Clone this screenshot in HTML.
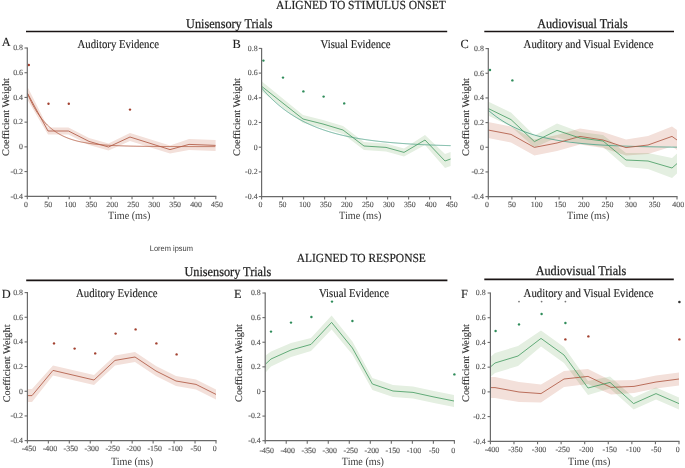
<!DOCTYPE html>
<html><head><meta charset="utf-8"><style>
html,body{margin:0;padding:0;background:#fff;}
svg{display:block;text-rendering:geometricPrecision;filter:blur(0.3px);}
</style></head><body>
<svg width="685" height="468" viewBox="0 0 685 468">
<rect width="685" height="468" fill="#fff"/>
<text x="276.1" y="9.4" font-size="12.3" text-anchor="start" fill="#1e1e1e" font-family='"Liberation Serif", serif' textLength="169.8" lengthAdjust="spacingAndGlyphs"  stroke="#1e1e1e" stroke-width="0.2">ALIGNED TO STIMULUS ONSET</text>
<text x="296.7" y="262.1" font-size="12.3" text-anchor="start" fill="#1e1e1e" font-family='"Liberation Serif", serif' textLength="129.2" lengthAdjust="spacingAndGlyphs"  stroke="#1e1e1e" stroke-width="0.2">ALIGNED TO RESPONSE</text>
<text x="186.1" y="27.5" font-size="13.3" text-anchor="start" fill="#1e1e1e" font-family='"Liberation Serif", serif' textLength="86.4" lengthAdjust="spacingAndGlyphs"  stroke="#1e1e1e" stroke-width="0.25">Unisensory Trials</text>
<text x="537.2" y="27.5" font-size="13.3" text-anchor="start" fill="#1e1e1e" font-family='"Liberation Serif", serif' textLength="90.5" lengthAdjust="spacingAndGlyphs"  stroke="#1e1e1e" stroke-width="0.25">Audiovisual Trials</text>
<text x="184.5" y="275.7" font-size="13.3" text-anchor="start" fill="#1e1e1e" font-family='"Liberation Serif", serif' textLength="86.7" lengthAdjust="spacingAndGlyphs"  stroke="#1e1e1e" stroke-width="0.25">Unisensory Trials</text>
<text x="535.7" y="275.4" font-size="13.3" text-anchor="start" fill="#1e1e1e" font-family='"Liberation Serif", serif' textLength="90.5" lengthAdjust="spacingAndGlyphs"  stroke="#1e1e1e" stroke-width="0.25">Audiovisual Trials</text>
<line x1="26.0" y1="31.5" x2="447.2" y2="31.5" stroke="#1a1414" stroke-width="1.6"/>
<line x1="484.3" y1="31.5" x2="674" y2="31.5" stroke="#1a1414" stroke-width="1.6"/>
<line x1="26.2" y1="280.4" x2="447.4" y2="280.4" stroke="#1a1414" stroke-width="1.6"/>
<line x1="484.3" y1="279.4" x2="673.8" y2="279.4" stroke="#1a1414" stroke-width="1.6"/>
<text x="149.8" y="250.8" font-size="8" text-anchor="start" fill="#3a3a3a" font-family='"Liberation Sans", sans-serif' textLength="43.2" lengthAdjust="spacingAndGlyphs" >Lorem ipsum</text>
<text x="1.8" y="45.5" font-size="12.4" text-anchor="start" fill="#1e1e1e" font-family='"Liberation Serif", serif'  stroke="#1e1e1e" stroke-width="0.1">A</text>
<text x="232.4" y="48.4" font-size="12.4" text-anchor="start" fill="#1e1e1e" font-family='"Liberation Serif", serif'  stroke="#1e1e1e" stroke-width="0.1">B</text>
<text x="460.4" y="48.2" font-size="12.4" text-anchor="start" fill="#1e1e1e" font-family='"Liberation Serif", serif'  stroke="#1e1e1e" stroke-width="0.1">C</text>
<text x="1.8" y="297.5" font-size="12.4" text-anchor="start" fill="#1e1e1e" font-family='"Liberation Serif", serif'  stroke="#1e1e1e" stroke-width="0.1">D</text>
<text x="234.0" y="298" font-size="12.4" text-anchor="start" fill="#1e1e1e" font-family='"Liberation Serif", serif'  stroke="#1e1e1e" stroke-width="0.1">E</text>
<text x="461.0" y="298" font-size="12.4" text-anchor="start" fill="#1e1e1e" font-family='"Liberation Serif", serif'  stroke="#1e1e1e" stroke-width="0.1">F</text>
<text x="77.5" y="48.3" font-size="12" text-anchor="start" fill="#1e1e1e" font-family='"Liberation Serif", serif' textLength="81.5" lengthAdjust="spacingAndGlyphs"  stroke="#1e1e1e" stroke-width="0.15">Auditory Evidence</text>
<text x="320.6" y="48.3" font-size="12" text-anchor="start" fill="#1e1e1e" font-family='"Liberation Serif", serif' textLength="70" lengthAdjust="spacingAndGlyphs"  stroke="#1e1e1e" stroke-width="0.15">Visual Evidence</text>
<text x="523.6" y="48.3" font-size="12" text-anchor="start" fill="#1e1e1e" font-family='"Liberation Serif", serif' textLength="130" lengthAdjust="spacingAndGlyphs"  stroke="#1e1e1e" stroke-width="0.15">Auditory and Visual Evidence</text>
<text x="76" y="297.3" font-size="12" text-anchor="start" fill="#1e1e1e" font-family='"Liberation Serif", serif' textLength="81.5" lengthAdjust="spacingAndGlyphs"  stroke="#1e1e1e" stroke-width="0.15">Auditory Evidence</text>
<text x="319" y="297.1" font-size="12" text-anchor="start" fill="#1e1e1e" font-family='"Liberation Serif", serif' textLength="70" lengthAdjust="spacingAndGlyphs"  stroke="#1e1e1e" stroke-width="0.15">Visual Evidence</text>
<text x="523.6" y="297.1" font-size="12" text-anchor="start" fill="#1e1e1e" font-family='"Liberation Serif", serif' textLength="130" lengthAdjust="spacingAndGlyphs"  stroke="#1e1e1e" stroke-width="0.15">Auditory and Visual Evidence</text>
<text transform="translate(9.3,117.0) rotate(-90)" x="0" y="0" font-size="10" text-anchor="middle" fill="#333" stroke="#333" stroke-width="0.12" font-family='"Liberation Serif", serif' textLength="77.8" lengthAdjust="spacingAndGlyphs">Coefficient Weight</text>
<text transform="translate(239.7,117.0) rotate(-90)" x="0" y="0" font-size="10" text-anchor="middle" fill="#333" stroke="#333" stroke-width="0.12" font-family='"Liberation Serif", serif' textLength="77.8" lengthAdjust="spacingAndGlyphs">Coefficient Weight</text>
<text transform="translate(468.9,117.0) rotate(-90)" x="0" y="0" font-size="10" text-anchor="middle" fill="#333" stroke="#333" stroke-width="0.12" font-family='"Liberation Serif", serif' textLength="77.8" lengthAdjust="spacingAndGlyphs">Coefficient Weight</text>
<text transform="translate(10.2,363.4) rotate(-90)" x="0" y="0" font-size="10" text-anchor="middle" fill="#333" stroke="#333" stroke-width="0.12" font-family='"Liberation Serif", serif' textLength="77.8" lengthAdjust="spacingAndGlyphs">Coefficient Weight</text>
<text transform="translate(242.2,363.0) rotate(-90)" x="0" y="0" font-size="10" text-anchor="middle" fill="#333" stroke="#333" stroke-width="0.12" font-family='"Liberation Serif", serif' textLength="77.8" lengthAdjust="spacingAndGlyphs">Coefficient Weight</text>
<text transform="translate(469.2,363.0) rotate(-90)" x="0" y="0" font-size="10" text-anchor="middle" fill="#333" stroke="#333" stroke-width="0.12" font-family='"Liberation Serif", serif' textLength="77.8" lengthAdjust="spacingAndGlyphs">Coefficient Weight</text>
<text x="129.2" y="219.3" font-size="11.1" text-anchor="middle" fill="#3a3a3a" font-family='"Liberation Serif", serif' textLength="42.2" lengthAdjust="spacingAndGlyphs" >Time (ms)</text>
<text x="360.2" y="219.3" font-size="11.1" text-anchor="middle" fill="#3a3a3a" font-family='"Liberation Serif", serif' textLength="42.2" lengthAdjust="spacingAndGlyphs" >Time (ms)</text>
<text x="588.2" y="219.3" font-size="11.1" text-anchor="middle" fill="#3a3a3a" font-family='"Liberation Serif", serif' textLength="42.2" lengthAdjust="spacingAndGlyphs" >Time (ms)</text>
<text x="132" y="464.5" font-size="11.1" text-anchor="middle" fill="#3a3a3a" font-family='"Liberation Serif", serif' textLength="42.2" lengthAdjust="spacingAndGlyphs" >Time (ms)</text>
<text x="362.9" y="464.5" font-size="11.1" text-anchor="middle" fill="#3a3a3a" font-family='"Liberation Serif", serif' textLength="42.2" lengthAdjust="spacingAndGlyphs" >Time (ms)</text>
<text x="589.2" y="464.5" font-size="11.1" text-anchor="middle" fill="#3a3a3a" font-family='"Liberation Serif", serif' textLength="42.2" lengthAdjust="spacingAndGlyphs" >Time (ms)</text>
<polygon points="27.30,86.50 48.00,127.50 68.50,127.50 89.00,137.90 108.50,143.50 130.00,133.00 170.00,145.60 189.00,138.90 215.60,139.90 215.60,150.90 189.00,149.90 170.00,153.60 130.00,141.00 108.50,150.50 89.00,144.90 68.50,134.50 48.00,134.50 27.30,99.50" fill="#f3e0da" style="mix-blend-mode:multiply"/>
<polyline points="27.30,93.00 28.30,95.38 29.30,97.66 30.30,99.83 31.30,101.91 32.30,103.90 33.30,105.79 34.30,107.61 35.30,109.34 36.30,111.00 37.30,112.58 38.30,114.09 39.30,115.53 40.30,116.92 41.30,118.23 42.30,119.49 43.30,120.70 44.30,121.85 45.30,122.95 46.30,124.00 47.30,125.01 48.30,125.96 49.30,126.88 50.30,127.76 51.30,128.60 52.30,129.40 53.30,130.16 54.30,130.89 55.30,131.59 56.30,132.26 57.30,132.89 58.30,133.50 59.30,134.08 60.30,134.64 61.30,135.17 62.30,135.68 63.30,136.16 64.30,136.63 65.30,137.07 66.30,137.50 67.30,137.90 68.30,138.29 69.30,138.66 70.30,139.01 71.30,139.35 72.30,139.67 73.30,139.98 74.30,140.27 75.30,140.55 76.30,140.82 77.30,141.08 78.30,141.32 79.30,141.56 80.30,141.78 81.30,142.00 82.30,142.20 83.30,142.40 84.30,142.58 85.30,142.76 86.30,142.93 87.30,143.09 88.30,143.25 89.30,143.40 90.30,143.54 91.30,143.68 92.30,143.81 93.30,143.93 94.30,144.05 95.30,144.16 96.30,144.27 97.30,144.38 98.30,144.47 99.30,144.57 100.30,144.66 101.30,144.74 102.30,144.83 103.30,144.91 104.30,144.98 105.30,145.05 106.30,145.12 107.30,145.19 108.30,145.25 109.30,145.31 110.30,145.37 111.30,145.42 112.30,145.47 113.30,145.52 114.30,145.57 115.30,145.62 116.30,145.66 117.30,145.70 118.30,145.74 119.30,145.78 120.30,145.82 121.30,145.85 122.30,145.89 123.30,145.92 124.30,145.95 125.30,145.98 126.30,146.00 127.30,146.03 128.30,146.06 129.30,146.08 130.30,146.10 131.30,146.13 132.30,146.15 133.30,146.17 134.30,146.19 135.30,146.20 136.30,146.22 137.30,146.24 138.30,146.25 139.30,146.27 140.30,146.28 141.30,146.30 142.30,146.31 143.30,146.33 144.30,146.34 145.30,146.35 146.30,146.36 147.30,146.37 148.30,146.38 149.30,146.39 150.30,146.40 151.30,146.41 152.30,146.42 153.30,146.43 154.30,146.43 155.30,146.44 156.30,146.45 157.30,146.45 158.30,146.46 159.30,146.47 160.30,146.47 161.30,146.48 162.30,146.48 163.30,146.49 164.30,146.49 165.30,146.50 166.30,146.50 167.30,146.51 168.30,146.51 169.30,146.52 170.30,146.52 171.30,146.52 172.30,146.53 173.30,146.53 174.30,146.53 175.30,146.54 176.30,146.54 177.30,146.54 178.30,146.54 179.30,146.55 180.30,146.55 181.30,146.55 182.30,146.55 183.30,146.56 184.30,146.56 185.30,146.56 186.30,146.56 187.30,146.56 188.30,146.56 189.30,146.57 190.30,146.57 191.30,146.57 192.30,146.57 193.30,146.57 194.30,146.57 195.30,146.57 196.30,146.58 197.30,146.58 198.30,146.58 199.30,146.58 200.30,146.58 201.30,146.58 202.30,146.58 203.30,146.58 204.30,146.58 205.30,146.58 206.30,146.58 207.30,146.59 208.30,146.59 209.30,146.59 210.30,146.59 211.30,146.59 212.30,146.59 213.30,146.59 214.30,146.59 215.30,146.59" fill="none" stroke="#b8644c" stroke-width="0.9" stroke-linejoin="round" />
<polyline points="27.30,93.00 48.00,131.00 68.50,131.00 89.00,141.40 108.50,147.00 130.00,137.00 170.00,149.60 189.00,144.40 215.60,145.40" fill="none" stroke="#b05a44" stroke-width="0.85" stroke-linejoin="round" />
<circle cx="28.8" cy="65" r="1.2" fill="#a2402f"/>
<circle cx="48.5" cy="103.8" r="1.2" fill="#a2402f"/>
<circle cx="68.8" cy="103.8" r="1.2" fill="#a2402f"/>
<circle cx="130" cy="109.6" r="1.2" fill="#a2402f"/>
<polygon points="261.60,81.30 303.00,115.00 323.00,120.00 343.00,126.00 364.00,142.00 386.00,143.40 404.00,148.40 425.00,135.00 445.00,154.00 450.60,152.00 450.60,166.00 445.00,168.00 425.00,145.00 404.00,156.40 386.00,151.40 364.00,150.00 343.00,134.00 323.00,128.00 303.00,123.00 261.60,91.30" fill="#e4efe1" style="mix-blend-mode:multiply"/>
<polyline points="261.60,88.00 262.60,89.17 263.60,90.31 264.60,91.44 265.60,92.54 266.60,93.61 267.60,94.67 268.60,95.71 269.60,96.72 270.60,97.72 271.60,98.69 272.60,99.65 273.60,100.59 274.60,101.51 275.60,102.41 276.60,103.29 277.60,104.16 278.60,105.01 279.60,105.84 280.60,106.65 281.60,107.45 282.60,108.23 283.60,109.00 284.60,109.75 285.60,110.49 286.60,111.21 287.60,111.92 288.60,112.62 289.60,113.30 290.60,113.97 291.60,114.62 292.60,115.26 293.60,115.89 294.60,116.51 295.60,117.11 296.60,117.70 297.60,118.28 298.60,118.85 299.60,119.41 300.60,119.95 301.60,120.49 302.60,121.01 303.60,121.53 304.60,122.03 305.60,122.53 306.60,123.01 307.60,123.49 308.60,123.95 309.60,124.41 310.60,124.86 311.60,125.30 312.60,125.72 313.60,126.15 314.60,126.56 315.60,126.96 316.60,127.36 317.60,127.75 318.60,128.13 319.60,128.50 320.60,128.87 321.60,129.23 322.60,129.58 323.60,129.93 324.60,130.26 325.60,130.60 326.60,130.92 327.60,131.24 328.60,131.55 329.60,131.86 330.60,132.16 331.60,132.45 332.60,132.74 333.60,133.02 334.60,133.30 335.60,133.57 336.60,133.84 337.60,134.10 338.60,134.35 339.60,134.60 340.60,134.85 341.60,135.09 342.60,135.32 343.60,135.56 344.60,135.78 345.60,136.00 346.60,136.22 347.60,136.44 348.60,136.64 349.60,136.85 350.60,137.05 351.60,137.25 352.60,137.44 353.60,137.63 354.60,137.82 355.60,138.00 356.60,138.18 357.60,138.35 358.60,138.52 359.60,138.69 360.60,138.85 361.60,139.02 362.60,139.17 363.60,139.33 364.60,139.48 365.60,139.63 366.60,139.78 367.60,139.92 368.60,140.06 369.60,140.20 370.60,140.33 371.60,140.46 372.60,140.59 373.60,140.72 374.60,140.84 375.60,140.97 376.60,141.08 377.60,141.20 378.60,141.32 379.60,141.43 380.60,141.54 381.60,141.65 382.60,141.75 383.60,141.86 384.60,141.96 385.60,142.06 386.60,142.16 387.60,142.25 388.60,142.35 389.60,142.44 390.60,142.53 391.60,142.62 392.60,142.70 393.60,142.79 394.60,142.87 395.60,142.95 396.60,143.03 397.60,143.11 398.60,143.19 399.60,143.27 400.60,143.34 401.60,143.41 402.60,143.48 403.60,143.55 404.60,143.62 405.60,143.69 406.60,143.75 407.60,143.82 408.60,143.88 409.60,143.94 410.60,144.00 411.60,144.06 412.60,144.12 413.60,144.18 414.60,144.23 415.60,144.29 416.60,144.34 417.60,144.39 418.60,144.45 419.60,144.50 420.60,144.55 421.60,144.60 422.60,144.64 423.60,144.69 424.60,144.74 425.60,144.78 426.60,144.82 427.60,144.87 428.60,144.91 429.60,144.95 430.60,144.99 431.60,145.03 432.60,145.07 433.60,145.11 434.60,145.15 435.60,145.18 436.60,145.22 437.60,145.25 438.60,145.29 439.60,145.32 440.60,145.36 441.60,145.39 442.60,145.42 443.60,145.45 444.60,145.48 445.60,145.51 446.60,145.54 447.60,145.57 448.60,145.60 449.60,145.63 450.60,145.65" fill="none" stroke="#5aa890" stroke-width="0.9" stroke-linejoin="round" />
<polyline points="261.60,86.30 303.00,119.00 323.00,124.00 343.00,130.00 364.00,146.00 386.00,147.40 404.00,152.40 425.00,140.00 445.00,161.00 450.60,159.00" fill="none" stroke="#4a9e66" stroke-width="0.85" stroke-linejoin="round" />
<circle cx="263.4" cy="60.6" r="1.2" fill="#2f8c5a"/>
<circle cx="283" cy="77.6" r="1.2" fill="#2f8c5a"/>
<circle cx="303.4" cy="91.4" r="1.2" fill="#2f8c5a"/>
<circle cx="323.6" cy="96.6" r="1.2" fill="#2f8c5a"/>
<circle cx="344.2" cy="103.4" r="1.2" fill="#2f8c5a"/>
<polygon points="488.00,122.00 511.00,126.40 534.40,139.40 557.00,135.00 580.00,128.40 603.00,132.00 626.00,139.60 648.00,136.00 672.00,126.40 677.00,130.00 677.00,150.00 672.00,146.40 648.00,154.00 626.00,155.60 603.00,148.00 580.00,144.40 557.00,151.00 534.40,155.40 511.00,142.40 488.00,138.00" fill="#f3e0da" style="mix-blend-mode:multiply"/>
<polygon points="488.00,101.40 511.00,112.60 534.40,135.60 557.00,123.40 580.00,132.00 603.00,135.00 626.00,153.00 648.00,153.00 672.00,158.00 677.00,153.60 677.00,173.60 672.00,178.00 648.00,169.00 626.00,167.00 603.00,147.00 580.00,144.00 557.00,137.40 534.40,147.60 511.00,126.60 488.00,115.40" fill="#e4efe1" style="mix-blend-mode:multiply"/>
<polyline points="488.00,110.00 489.00,110.88 490.00,111.73 491.00,112.57 492.00,113.38 493.00,114.18 494.00,114.96 495.00,115.72 496.00,116.47 497.00,117.19 498.00,117.90 499.00,118.59 500.00,119.27 501.00,119.93 502.00,120.57 503.00,121.20 504.00,121.82 505.00,122.42 506.00,123.01 507.00,123.58 508.00,124.14 509.00,124.69 510.00,125.22 511.00,125.74 512.00,126.25 513.00,126.75 514.00,127.24 515.00,127.71 516.00,128.17 517.00,128.63 518.00,129.07 519.00,129.50 520.00,129.92 521.00,130.33 522.00,130.74 523.00,131.13 524.00,131.51 525.00,131.89 526.00,132.26 527.00,132.61 528.00,132.96 529.00,133.30 530.00,133.64 531.00,133.96 532.00,134.28 533.00,134.59 534.00,134.89 535.00,135.19 536.00,135.48 537.00,135.76 538.00,136.04 539.00,136.31 540.00,136.57 541.00,136.83 542.00,137.08 543.00,137.32 544.00,137.56 545.00,137.80 546.00,138.03 547.00,138.25 548.00,138.47 549.00,138.68 550.00,138.89 551.00,139.09 552.00,139.29 553.00,139.48 554.00,139.67 555.00,139.86 556.00,140.04 557.00,140.21 558.00,140.39 559.00,140.55 560.00,140.72 561.00,140.88 562.00,141.04 563.00,141.19 564.00,141.34 565.00,141.48 566.00,141.63 567.00,141.77 568.00,141.90 569.00,142.03 570.00,142.16 571.00,142.29 572.00,142.41 573.00,142.54 574.00,142.65 575.00,142.77 576.00,142.88 577.00,142.99 578.00,143.10 579.00,143.20 580.00,143.31 581.00,143.41 582.00,143.50 583.00,143.60 584.00,143.69 585.00,143.78 586.00,143.87 587.00,143.96 588.00,144.04 589.00,144.13 590.00,144.21 591.00,144.29 592.00,144.36 593.00,144.44 594.00,144.51 595.00,144.59 596.00,144.66 597.00,144.72 598.00,144.79 599.00,144.86 600.00,144.92 601.00,144.98 602.00,145.04 603.00,145.10 604.00,145.16 605.00,145.22 606.00,145.27 607.00,145.33 608.00,145.38 609.00,145.43 610.00,145.48 611.00,145.53 612.00,145.58 613.00,145.63 614.00,145.67 615.00,145.72 616.00,145.76 617.00,145.81 618.00,145.85 619.00,145.89 620.00,145.93 621.00,145.97 622.00,146.01 623.00,146.04 624.00,146.08 625.00,146.11 626.00,146.15 627.00,146.18 628.00,146.22 629.00,146.25 630.00,146.28 631.00,146.31 632.00,146.34 633.00,146.37 634.00,146.40 635.00,146.43 636.00,146.45 637.00,146.48 638.00,146.51 639.00,146.53 640.00,146.56 641.00,146.58 642.00,146.61 643.00,146.63 644.00,146.65 645.00,146.67 646.00,146.69 647.00,146.72 648.00,146.74 649.00,146.76 650.00,146.78 651.00,146.80 652.00,146.81 653.00,146.83 654.00,146.85 655.00,146.87 656.00,146.88 657.00,146.90 658.00,146.92 659.00,146.93 660.00,146.95 661.00,146.96 662.00,146.98 663.00,146.99 664.00,147.01 665.00,147.02 666.00,147.04 667.00,147.05 668.00,147.06 669.00,147.07 670.00,147.09 671.00,147.10 672.00,147.11 673.00,147.12 674.00,147.13 675.00,147.14 676.00,147.15 677.00,147.16" fill="none" stroke="#5aa890" stroke-width="0.9" stroke-linejoin="round" />
<polyline points="488.00,130.00 511.00,134.40 534.40,147.40 557.00,143.00 580.00,136.40 603.00,140.00 626.00,147.60 648.00,145.00 672.00,136.40 677.00,140.00" fill="none" stroke="#b05a44" stroke-width="0.85" stroke-linejoin="round" />
<polyline points="488.00,108.40 511.00,119.60 534.40,141.60 557.00,130.40 580.00,138.00 603.00,141.00 626.00,160.00 648.00,161.00 672.00,168.00 677.00,163.60" fill="none" stroke="#4a9e66" stroke-width="0.85" stroke-linejoin="round" />
<circle cx="490" cy="70" r="1.2" fill="#2f8c5a"/>
<circle cx="512.4" cy="80.4" r="1.2" fill="#2f8c5a"/>
<polygon points="27.40,389.10 32.00,389.10 53.00,365.40 94.00,375.00 115.00,355.40 135.00,352.00 156.00,366.00 176.00,376.00 196.00,379.40 216.00,389.40 216.00,399.40 196.00,389.40 176.00,386.00 156.00,376.00 135.00,362.00 115.00,365.40 94.00,385.00 53.00,375.40 32.00,402.10 27.40,402.10" fill="#f3e0da" style="mix-blend-mode:multiply"/>
<polyline points="27.40,395.60 32.00,395.60 53.00,370.40 94.00,380.00 115.00,360.40 135.00,357.00 156.00,371.00 176.00,381.00 196.00,384.40 216.00,394.40" fill="none" stroke="#b05a44" stroke-width="0.85" stroke-linejoin="round" />
<circle cx="54" cy="343.4" r="1.2" fill="#a2402f"/>
<circle cx="74.6" cy="348.6" r="1.2" fill="#a2402f"/>
<circle cx="95.2" cy="353.4" r="1.2" fill="#a2402f"/>
<circle cx="115.6" cy="333.6" r="1.2" fill="#a2402f"/>
<circle cx="135.6" cy="329.4" r="1.2" fill="#a2402f"/>
<circle cx="156.4" cy="343.4" r="1.2" fill="#a2402f"/>
<circle cx="176.6" cy="354.4" r="1.2" fill="#a2402f"/>
<polygon points="265.60,355.50 271.00,351.50 291.00,343.00 311.00,337.90 331.60,315.40 352.40,341.50 372.40,378.00 393.00,385.00 413.00,386.40 434.00,391.00 454.00,395.00 454.00,407.00 434.00,403.00 413.00,398.40 393.00,397.00 372.40,390.00 352.40,354.50 331.60,329.40 311.00,350.90 291.00,357.00 271.00,366.50 265.60,372.50" fill="#e4efe1" style="mix-blend-mode:multiply"/>
<polyline points="265.60,364.00 271.00,359.00 291.00,350.00 311.00,344.40 331.60,322.40 352.40,348.00 372.40,384.00 393.00,391.00 413.00,392.40 434.00,397.00 454.00,401.00" fill="none" stroke="#4a9e66" stroke-width="0.85" stroke-linejoin="round" />
<circle cx="271" cy="331.6" r="1.2" fill="#2f8c5a"/>
<circle cx="291" cy="322.6" r="1.2" fill="#2f8c5a"/>
<circle cx="311.4" cy="317" r="1.2" fill="#2f8c5a"/>
<circle cx="332" cy="301.6" r="1.2" fill="#2f8c5a"/>
<circle cx="352.4" cy="321" r="1.2" fill="#2f8c5a"/>
<circle cx="454.4" cy="374.4" r="1.2" fill="#2f8c5a"/>
<polygon points="490.40,377.10 495.00,377.10 519.00,382.00 541.00,384.60 564.00,371.00 588.00,368.90 611.00,380.40 634.00,379.90 656.00,375.50 679.00,372.50 679.00,385.50 656.00,388.50 634.00,392.90 611.00,394.40 588.00,383.90 564.00,387.00 541.00,402.60 519.00,402.00 495.00,398.10 490.40,398.10" fill="#f3e0da" style="mix-blend-mode:multiply"/>
<polygon points="490.40,357.00 495.00,353.00 518.00,346.00 541.00,330.40 564.00,347.00 588.00,381.00 610.00,376.40 633.60,397.60 656.00,387.60 679.00,397.60 679.00,409.60 656.00,399.60 633.60,409.60 610.00,388.40 588.00,395.00 564.00,363.00 541.00,346.40 518.00,366.00 495.00,373.00 490.40,377.00" fill="#e4efe1" style="mix-blend-mode:multiply"/>
<polyline points="490.40,387.60 495.00,387.60 519.00,392.00 541.00,393.60 564.00,379.00 588.00,376.40 611.00,387.40 634.00,386.40 656.00,382.00 679.00,379.00" fill="none" stroke="#b05a44" stroke-width="0.85" stroke-linejoin="round" />
<polyline points="490.40,367.00 495.00,363.00 518.00,356.00 541.00,338.40 564.00,355.00 588.00,388.00 610.00,382.40 633.60,403.60 656.00,393.60 679.00,403.60" fill="none" stroke="#4a9e66" stroke-width="0.85" stroke-linejoin="round" />
<circle cx="495.6" cy="331" r="1.2" fill="#2f8c5a"/>
<circle cx="519" cy="324.4" r="1.2" fill="#2f8c5a"/>
<circle cx="541.6" cy="314" r="1.2" fill="#2f8c5a"/>
<circle cx="565.4" cy="323" r="1.2" fill="#2f8c5a"/>
<circle cx="565.4" cy="339.4" r="1.2" fill="#a2402f"/>
<circle cx="588.4" cy="336.4" r="1.2" fill="#a2402f"/>
<circle cx="679.4" cy="339.4" r="1.2" fill="#a2402f"/>
<circle cx="519" cy="301.6" r="0.9" fill="#777"/>
<circle cx="541.6" cy="301.6" r="0.9" fill="#777"/>
<circle cx="565.4" cy="301.6" r="0.9" fill="#777"/>
<circle cx="679.4" cy="302" r="1.3" fill="#333"/>
<line x1="27.3" y1="47.5" x2="27.3" y2="196.9" stroke="#6a6a6a" stroke-width="1.2"/>
<line x1="26.7" y1="196.3" x2="216.3" y2="196.3" stroke="#6a6a6a" stroke-width="1.2"/>
<line x1="24.5" y1="48.0" x2="27.3" y2="48.0" stroke="#6a6a6a" stroke-width="1.1"/>
<text x="23.0" y="50.3" font-size="7.9" text-anchor="end" fill="#555" font-family='"Liberation Serif", serif'  stroke="#555" stroke-width="0.12">0.8</text>
<line x1="24.5" y1="72.71666666666667" x2="27.3" y2="72.71666666666667" stroke="#6a6a6a" stroke-width="1.1"/>
<text x="23.0" y="75.01666666666667" font-size="7.9" text-anchor="end" fill="#555" font-family='"Liberation Serif", serif'  stroke="#555" stroke-width="0.12">0.6</text>
<line x1="24.5" y1="97.43333333333334" x2="27.3" y2="97.43333333333334" stroke="#6a6a6a" stroke-width="1.1"/>
<text x="23.0" y="99.73333333333333" font-size="7.9" text-anchor="end" fill="#555" font-family='"Liberation Serif", serif'  stroke="#555" stroke-width="0.12">0.4</text>
<line x1="24.5" y1="122.15" x2="27.3" y2="122.15" stroke="#6a6a6a" stroke-width="1.1"/>
<text x="23.0" y="124.45" font-size="7.9" text-anchor="end" fill="#555" font-family='"Liberation Serif", serif'  stroke="#555" stroke-width="0.12">0.2</text>
<line x1="24.5" y1="146.86666666666667" x2="27.3" y2="146.86666666666667" stroke="#6a6a6a" stroke-width="1.1"/>
<text x="23.0" y="149.16666666666669" font-size="7.9" text-anchor="end" fill="#555" font-family='"Liberation Serif", serif'  stroke="#555" stroke-width="0.12">0</text>
<line x1="24.5" y1="171.58333333333331" x2="27.3" y2="171.58333333333331" stroke="#6a6a6a" stroke-width="1.1"/>
<text x="23.0" y="173.88333333333333" font-size="7.9" text-anchor="end" fill="#555" font-family='"Liberation Serif", serif'  stroke="#555" stroke-width="0.12">-0.2</text>
<line x1="24.5" y1="196.3" x2="27.3" y2="196.3" stroke="#6a6a6a" stroke-width="1.1"/>
<text x="23.0" y="198.60000000000002" font-size="7.9" text-anchor="end" fill="#555" font-family='"Liberation Serif", serif'  stroke="#555" stroke-width="0.12">-0.4</text>
<line x1="27.3" y1="196.3" x2="27.3" y2="199.3" stroke="#6a6a6a" stroke-width="1.1"/>
<text x="26.1" y="207.0" font-size="7.9" text-anchor="middle" fill="#555" font-family='"Liberation Serif", serif'  stroke="#555" stroke-width="0.12">0</text>
<line x1="48.24444444444444" y1="196.3" x2="48.24444444444444" y2="199.3" stroke="#6a6a6a" stroke-width="1.1"/>
<text x="48.24" y="207.0" font-size="7.9" text-anchor="middle" fill="#555" font-family='"Liberation Serif", serif'  stroke="#555" stroke-width="0.12">50</text>
<line x1="69.18888888888888" y1="196.3" x2="69.18888888888888" y2="199.3" stroke="#6a6a6a" stroke-width="1.1"/>
<text x="70.39" y="207.0" font-size="7.9" text-anchor="middle" fill="#555" font-family='"Liberation Serif", serif'  stroke="#555" stroke-width="0.12">100</text>
<line x1="90.13333333333334" y1="196.3" x2="90.13333333333334" y2="199.3" stroke="#6a6a6a" stroke-width="1.1"/>
<text x="91.33" y="207.0" font-size="7.9" text-anchor="middle" fill="#555" font-family='"Liberation Serif", serif'  stroke="#555" stroke-width="0.12">350</text>
<line x1="111.07777777777777" y1="196.3" x2="111.07777777777777" y2="199.3" stroke="#6a6a6a" stroke-width="1.1"/>
<text x="112.28" y="207.0" font-size="7.9" text-anchor="middle" fill="#555" font-family='"Liberation Serif", serif'  stroke="#555" stroke-width="0.12">200</text>
<line x1="132.02222222222224" y1="196.3" x2="132.02222222222224" y2="199.3" stroke="#6a6a6a" stroke-width="1.1"/>
<text x="133.22" y="207.0" font-size="7.9" text-anchor="middle" fill="#555" font-family='"Liberation Serif", serif'  stroke="#555" stroke-width="0.12">250</text>
<line x1="152.96666666666667" y1="196.3" x2="152.96666666666667" y2="199.3" stroke="#6a6a6a" stroke-width="1.1"/>
<text x="154.17" y="207.0" font-size="7.9" text-anchor="middle" fill="#555" font-family='"Liberation Serif", serif'  stroke="#555" stroke-width="0.12">300</text>
<line x1="173.91111111111113" y1="196.3" x2="173.91111111111113" y2="199.3" stroke="#6a6a6a" stroke-width="1.1"/>
<text x="175.11" y="207.0" font-size="7.9" text-anchor="middle" fill="#555" font-family='"Liberation Serif", serif'  stroke="#555" stroke-width="0.12">350</text>
<line x1="194.85555555555555" y1="196.3" x2="194.85555555555555" y2="199.3" stroke="#6a6a6a" stroke-width="1.1"/>
<text x="196.06" y="207.0" font-size="7.9" text-anchor="middle" fill="#555" font-family='"Liberation Serif", serif'  stroke="#555" stroke-width="0.12">400</text>
<line x1="215.8" y1="196.3" x2="215.8" y2="199.3" stroke="#6a6a6a" stroke-width="1.1"/>
<text x="217.0" y="207.0" font-size="7.9" text-anchor="middle" fill="#555" font-family='"Liberation Serif", serif'  stroke="#555" stroke-width="0.12">450</text>
<line x1="261.6" y1="47.9" x2="261.6" y2="197.2" stroke="#6a6a6a" stroke-width="1.2"/>
<line x1="261.0" y1="196.6" x2="451.1" y2="196.6" stroke="#6a6a6a" stroke-width="1.2"/>
<line x1="258.8" y1="48.4" x2="261.6" y2="48.4" stroke="#6a6a6a" stroke-width="1.1"/>
<text x="257.6" y="50.699999999999996" font-size="7.9" text-anchor="end" fill="#555" font-family='"Liberation Serif", serif'  stroke="#555" stroke-width="0.12">0.8</text>
<line x1="258.8" y1="73.1" x2="261.6" y2="73.1" stroke="#6a6a6a" stroke-width="1.1"/>
<text x="257.6" y="75.39999999999999" font-size="7.9" text-anchor="end" fill="#555" font-family='"Liberation Serif", serif'  stroke="#555" stroke-width="0.12">0.6</text>
<line x1="258.8" y1="97.8" x2="261.6" y2="97.8" stroke="#6a6a6a" stroke-width="1.1"/>
<text x="257.6" y="100.1" font-size="7.9" text-anchor="end" fill="#555" font-family='"Liberation Serif", serif'  stroke="#555" stroke-width="0.12">0.4</text>
<line x1="258.8" y1="122.5" x2="261.6" y2="122.5" stroke="#6a6a6a" stroke-width="1.1"/>
<text x="257.6" y="124.8" font-size="7.9" text-anchor="end" fill="#555" font-family='"Liberation Serif", serif'  stroke="#555" stroke-width="0.12">0.2</text>
<line x1="258.8" y1="147.2" x2="261.6" y2="147.2" stroke="#6a6a6a" stroke-width="1.1"/>
<text x="257.6" y="149.5" font-size="7.9" text-anchor="end" fill="#555" font-family='"Liberation Serif", serif'  stroke="#555" stroke-width="0.12">0</text>
<line x1="258.8" y1="171.9" x2="261.6" y2="171.9" stroke="#6a6a6a" stroke-width="1.1"/>
<text x="257.6" y="174.20000000000002" font-size="7.9" text-anchor="end" fill="#555" font-family='"Liberation Serif", serif'  stroke="#555" stroke-width="0.12">-0.2</text>
<line x1="258.8" y1="196.6" x2="261.6" y2="196.6" stroke="#6a6a6a" stroke-width="1.1"/>
<text x="257.6" y="198.9" font-size="7.9" text-anchor="end" fill="#555" font-family='"Liberation Serif", serif'  stroke="#555" stroke-width="0.12">-0.4</text>
<line x1="261.6" y1="196.6" x2="261.6" y2="199.6" stroke="#6a6a6a" stroke-width="1.1"/>
<text x="260.4" y="207.2" font-size="7.9" text-anchor="middle" fill="#555" font-family='"Liberation Serif", serif'  stroke="#555" stroke-width="0.12">0</text>
<line x1="282.6" y1="196.6" x2="282.6" y2="199.6" stroke="#6a6a6a" stroke-width="1.1"/>
<text x="282.6" y="207.2" font-size="7.9" text-anchor="middle" fill="#555" font-family='"Liberation Serif", serif'  stroke="#555" stroke-width="0.12">50</text>
<line x1="303.6" y1="196.6" x2="303.6" y2="199.6" stroke="#6a6a6a" stroke-width="1.1"/>
<text x="304.8" y="207.2" font-size="7.9" text-anchor="middle" fill="#555" font-family='"Liberation Serif", serif'  stroke="#555" stroke-width="0.12">100</text>
<line x1="324.6" y1="196.6" x2="324.6" y2="199.6" stroke="#6a6a6a" stroke-width="1.1"/>
<text x="325.8" y="207.2" font-size="7.9" text-anchor="middle" fill="#555" font-family='"Liberation Serif", serif'  stroke="#555" stroke-width="0.12">350</text>
<line x1="345.6" y1="196.6" x2="345.6" y2="199.6" stroke="#6a6a6a" stroke-width="1.1"/>
<text x="346.8" y="207.2" font-size="7.9" text-anchor="middle" fill="#555" font-family='"Liberation Serif", serif'  stroke="#555" stroke-width="0.12">200</text>
<line x1="366.6" y1="196.6" x2="366.6" y2="199.6" stroke="#6a6a6a" stroke-width="1.1"/>
<text x="367.8" y="207.2" font-size="7.9" text-anchor="middle" fill="#555" font-family='"Liberation Serif", serif'  stroke="#555" stroke-width="0.12">250</text>
<line x1="387.6" y1="196.6" x2="387.6" y2="199.6" stroke="#6a6a6a" stroke-width="1.1"/>
<text x="388.8" y="207.2" font-size="7.9" text-anchor="middle" fill="#555" font-family='"Liberation Serif", serif'  stroke="#555" stroke-width="0.12">300</text>
<line x1="408.6" y1="196.6" x2="408.6" y2="199.6" stroke="#6a6a6a" stroke-width="1.1"/>
<text x="409.8" y="207.2" font-size="7.9" text-anchor="middle" fill="#555" font-family='"Liberation Serif", serif'  stroke="#555" stroke-width="0.12">350</text>
<line x1="429.6" y1="196.6" x2="429.6" y2="199.6" stroke="#6a6a6a" stroke-width="1.1"/>
<text x="430.8" y="207.2" font-size="7.9" text-anchor="middle" fill="#555" font-family='"Liberation Serif", serif'  stroke="#555" stroke-width="0.12">400</text>
<line x1="450.6" y1="196.6" x2="450.6" y2="199.6" stroke="#6a6a6a" stroke-width="1.1"/>
<text x="451.8" y="207.2" font-size="7.9" text-anchor="middle" fill="#555" font-family='"Liberation Serif", serif'  stroke="#555" stroke-width="0.12">450</text>
<line x1="488.3" y1="48.1" x2="488.3" y2="197.2" stroke="#6a6a6a" stroke-width="1.2"/>
<line x1="487.7" y1="196.6" x2="677.5" y2="196.6" stroke="#6a6a6a" stroke-width="1.2"/>
<line x1="485.5" y1="48.6" x2="488.3" y2="48.6" stroke="#6a6a6a" stroke-width="1.1"/>
<text x="483.9" y="50.9" font-size="7.9" text-anchor="end" fill="#555" font-family='"Liberation Serif", serif'  stroke="#555" stroke-width="0.12">0.8</text>
<line x1="485.5" y1="73.26666666666667" x2="488.3" y2="73.26666666666667" stroke="#6a6a6a" stroke-width="1.1"/>
<text x="483.9" y="75.56666666666666" font-size="7.9" text-anchor="end" fill="#555" font-family='"Liberation Serif", serif'  stroke="#555" stroke-width="0.12">0.6</text>
<line x1="485.5" y1="97.93333333333334" x2="488.3" y2="97.93333333333334" stroke="#6a6a6a" stroke-width="1.1"/>
<text x="483.9" y="100.23333333333333" font-size="7.9" text-anchor="end" fill="#555" font-family='"Liberation Serif", serif'  stroke="#555" stroke-width="0.12">0.4</text>
<line x1="485.5" y1="122.6" x2="488.3" y2="122.6" stroke="#6a6a6a" stroke-width="1.1"/>
<text x="483.9" y="124.89999999999999" font-size="7.9" text-anchor="end" fill="#555" font-family='"Liberation Serif", serif'  stroke="#555" stroke-width="0.12">0.2</text>
<line x1="485.5" y1="147.26666666666668" x2="488.3" y2="147.26666666666668" stroke="#6a6a6a" stroke-width="1.1"/>
<text x="483.9" y="149.5666666666667" font-size="7.9" text-anchor="end" fill="#555" font-family='"Liberation Serif", serif'  stroke="#555" stroke-width="0.12">0</text>
<line x1="485.5" y1="171.93333333333334" x2="488.3" y2="171.93333333333334" stroke="#6a6a6a" stroke-width="1.1"/>
<text x="483.9" y="174.23333333333335" font-size="7.9" text-anchor="end" fill="#555" font-family='"Liberation Serif", serif'  stroke="#555" stroke-width="0.12">-0.2</text>
<line x1="485.5" y1="196.6" x2="488.3" y2="196.6" stroke="#6a6a6a" stroke-width="1.1"/>
<text x="483.9" y="198.9" font-size="7.9" text-anchor="end" fill="#555" font-family='"Liberation Serif", serif'  stroke="#555" stroke-width="0.12">-0.4</text>
<line x1="488.3" y1="196.6" x2="488.3" y2="199.6" stroke="#6a6a6a" stroke-width="1.1"/>
<text x="487.1" y="207.2" font-size="7.9" text-anchor="middle" fill="#555" font-family='"Liberation Serif", serif'  stroke="#555" stroke-width="0.12">0</text>
<line x1="511.8875" y1="196.6" x2="511.8875" y2="199.6" stroke="#6a6a6a" stroke-width="1.1"/>
<text x="511.89" y="207.2" font-size="7.9" text-anchor="middle" fill="#555" font-family='"Liberation Serif", serif'  stroke="#555" stroke-width="0.12">50</text>
<line x1="535.475" y1="196.6" x2="535.475" y2="199.6" stroke="#6a6a6a" stroke-width="1.1"/>
<text x="536.68" y="207.2" font-size="7.9" text-anchor="middle" fill="#555" font-family='"Liberation Serif", serif'  stroke="#555" stroke-width="0.12">100</text>
<line x1="559.0625" y1="196.6" x2="559.0625" y2="199.6" stroke="#6a6a6a" stroke-width="1.1"/>
<text x="560.26" y="207.2" font-size="7.9" text-anchor="middle" fill="#555" font-family='"Liberation Serif", serif'  stroke="#555" stroke-width="0.12">150</text>
<line x1="582.65" y1="196.6" x2="582.65" y2="199.6" stroke="#6a6a6a" stroke-width="1.1"/>
<text x="583.85" y="207.2" font-size="7.9" text-anchor="middle" fill="#555" font-family='"Liberation Serif", serif'  stroke="#555" stroke-width="0.12">200</text>
<line x1="606.2375" y1="196.6" x2="606.2375" y2="199.6" stroke="#6a6a6a" stroke-width="1.1"/>
<text x="607.44" y="207.2" font-size="7.9" text-anchor="middle" fill="#555" font-family='"Liberation Serif", serif'  stroke="#555" stroke-width="0.12">250</text>
<line x1="629.825" y1="196.6" x2="629.825" y2="199.6" stroke="#6a6a6a" stroke-width="1.1"/>
<text x="631.03" y="207.2" font-size="7.9" text-anchor="middle" fill="#555" font-family='"Liberation Serif", serif'  stroke="#555" stroke-width="0.12">300</text>
<line x1="653.4125" y1="196.6" x2="653.4125" y2="199.6" stroke="#6a6a6a" stroke-width="1.1"/>
<text x="654.61" y="207.2" font-size="7.9" text-anchor="middle" fill="#555" font-family='"Liberation Serif", serif'  stroke="#555" stroke-width="0.12">350</text>
<line x1="677.0" y1="196.6" x2="677.0" y2="199.6" stroke="#6a6a6a" stroke-width="1.1"/>
<text x="678.2" y="207.2" font-size="7.9" text-anchor="middle" fill="#555" font-family='"Liberation Serif", serif'  stroke="#555" stroke-width="0.12">400</text>
<line x1="27.4" y1="292.1" x2="27.4" y2="441.20000000000005" stroke="#6a6a6a" stroke-width="1.2"/>
<line x1="26.799999999999997" y1="440.6" x2="216.5" y2="440.6" stroke="#6a6a6a" stroke-width="1.2"/>
<line x1="24.599999999999998" y1="292.6" x2="27.4" y2="292.6" stroke="#6a6a6a" stroke-width="1.1"/>
<text x="23.0" y="294.90000000000003" font-size="7.9" text-anchor="end" fill="#555" font-family='"Liberation Serif", serif'  stroke="#555" stroke-width="0.12">0.8</text>
<line x1="24.599999999999998" y1="317.2666666666667" x2="27.4" y2="317.2666666666667" stroke="#6a6a6a" stroke-width="1.1"/>
<text x="23.0" y="319.5666666666667" font-size="7.9" text-anchor="end" fill="#555" font-family='"Liberation Serif", serif'  stroke="#555" stroke-width="0.12">0.6</text>
<line x1="24.599999999999998" y1="341.93333333333334" x2="27.4" y2="341.93333333333334" stroke="#6a6a6a" stroke-width="1.1"/>
<text x="23.0" y="344.23333333333335" font-size="7.9" text-anchor="end" fill="#555" font-family='"Liberation Serif", serif'  stroke="#555" stroke-width="0.12">0.4</text>
<line x1="24.599999999999998" y1="366.6" x2="27.4" y2="366.6" stroke="#6a6a6a" stroke-width="1.1"/>
<text x="23.0" y="368.90000000000003" font-size="7.9" text-anchor="end" fill="#555" font-family='"Liberation Serif", serif'  stroke="#555" stroke-width="0.12">0.2</text>
<line x1="24.599999999999998" y1="391.2666666666667" x2="27.4" y2="391.2666666666667" stroke="#6a6a6a" stroke-width="1.1"/>
<text x="23.0" y="393.5666666666667" font-size="7.9" text-anchor="end" fill="#555" font-family='"Liberation Serif", serif'  stroke="#555" stroke-width="0.12">0</text>
<line x1="24.599999999999998" y1="415.93333333333334" x2="27.4" y2="415.93333333333334" stroke="#6a6a6a" stroke-width="1.1"/>
<text x="23.0" y="418.23333333333335" font-size="7.9" text-anchor="end" fill="#555" font-family='"Liberation Serif", serif'  stroke="#555" stroke-width="0.12">-0.2</text>
<line x1="24.599999999999998" y1="440.6" x2="27.4" y2="440.6" stroke="#6a6a6a" stroke-width="1.1"/>
<text x="23.0" y="442.90000000000003" font-size="7.9" text-anchor="end" fill="#555" font-family='"Liberation Serif", serif'  stroke="#555" stroke-width="0.12">-0.4</text>
<line x1="27.4" y1="440.6" x2="27.4" y2="443.6" stroke="#6a6a6a" stroke-width="1.1"/>
<text x="28.9" y="450.8" font-size="7.9" text-anchor="middle" fill="#555" font-family='"Liberation Serif", serif'  stroke="#555" stroke-width="0.12">-450</text>
<line x1="48.355555555555554" y1="440.6" x2="48.355555555555554" y2="443.6" stroke="#6a6a6a" stroke-width="1.1"/>
<text x="49.86" y="450.8" font-size="7.9" text-anchor="middle" fill="#555" font-family='"Liberation Serif", serif'  stroke="#555" stroke-width="0.12">-400</text>
<line x1="69.3111111111111" y1="440.6" x2="69.3111111111111" y2="443.6" stroke="#6a6a6a" stroke-width="1.1"/>
<text x="70.81" y="450.8" font-size="7.9" text-anchor="middle" fill="#555" font-family='"Liberation Serif", serif'  stroke="#555" stroke-width="0.12">-350</text>
<line x1="90.26666666666665" y1="440.6" x2="90.26666666666665" y2="443.6" stroke="#6a6a6a" stroke-width="1.1"/>
<text x="91.77" y="450.8" font-size="7.9" text-anchor="middle" fill="#555" font-family='"Liberation Serif", serif'  stroke="#555" stroke-width="0.12">-300</text>
<line x1="111.22222222222223" y1="440.6" x2="111.22222222222223" y2="443.6" stroke="#6a6a6a" stroke-width="1.1"/>
<text x="112.72" y="450.8" font-size="7.9" text-anchor="middle" fill="#555" font-family='"Liberation Serif", serif'  stroke="#555" stroke-width="0.12">-250</text>
<line x1="132.17777777777778" y1="440.6" x2="132.17777777777778" y2="443.6" stroke="#6a6a6a" stroke-width="1.1"/>
<text x="133.68" y="450.8" font-size="7.9" text-anchor="middle" fill="#555" font-family='"Liberation Serif", serif'  stroke="#555" stroke-width="0.12">-200</text>
<line x1="153.13333333333333" y1="440.6" x2="153.13333333333333" y2="443.6" stroke="#6a6a6a" stroke-width="1.1"/>
<text x="154.63" y="450.8" font-size="7.9" text-anchor="middle" fill="#555" font-family='"Liberation Serif", serif'  stroke="#555" stroke-width="0.12">-150</text>
<line x1="174.0888888888889" y1="440.6" x2="174.0888888888889" y2="443.6" stroke="#6a6a6a" stroke-width="1.1"/>
<text x="175.59" y="450.8" font-size="7.9" text-anchor="middle" fill="#555" font-family='"Liberation Serif", serif'  stroke="#555" stroke-width="0.12">-100</text>
<line x1="195.04444444444445" y1="440.6" x2="195.04444444444445" y2="443.6" stroke="#6a6a6a" stroke-width="1.1"/>
<text x="195.84" y="450.8" font-size="7.9" text-anchor="middle" fill="#555" font-family='"Liberation Serif", serif'  stroke="#555" stroke-width="0.12">-50</text>
<line x1="216.0" y1="440.6" x2="216.0" y2="443.6" stroke="#6a6a6a" stroke-width="1.1"/>
<text x="214.8" y="450.8" font-size="7.9" text-anchor="middle" fill="#555" font-family='"Liberation Serif", serif'  stroke="#555" stroke-width="0.12">0</text>
<line x1="265.2" y1="292.5" x2="265.2" y2="441.3" stroke="#6a6a6a" stroke-width="1.2"/>
<line x1="264.59999999999997" y1="440.7" x2="454.9" y2="440.7" stroke="#6a6a6a" stroke-width="1.2"/>
<line x1="262.4" y1="293.0" x2="265.2" y2="293.0" stroke="#6a6a6a" stroke-width="1.1"/>
<text x="260.8" y="295.3" font-size="7.9" text-anchor="end" fill="#555" font-family='"Liberation Serif", serif'  stroke="#555" stroke-width="0.12">0.8</text>
<line x1="262.4" y1="317.6166666666667" x2="265.2" y2="317.6166666666667" stroke="#6a6a6a" stroke-width="1.1"/>
<text x="260.8" y="319.9166666666667" font-size="7.9" text-anchor="end" fill="#555" font-family='"Liberation Serif", serif'  stroke="#555" stroke-width="0.12">0.6</text>
<line x1="262.4" y1="342.23333333333335" x2="265.2" y2="342.23333333333335" stroke="#6a6a6a" stroke-width="1.1"/>
<text x="260.8" y="344.53333333333336" font-size="7.9" text-anchor="end" fill="#555" font-family='"Liberation Serif", serif'  stroke="#555" stroke-width="0.12">0.4</text>
<line x1="262.4" y1="366.85" x2="265.2" y2="366.85" stroke="#6a6a6a" stroke-width="1.1"/>
<text x="260.8" y="369.15000000000003" font-size="7.9" text-anchor="end" fill="#555" font-family='"Liberation Serif", serif'  stroke="#555" stroke-width="0.12">0.2</text>
<line x1="262.4" y1="391.46666666666664" x2="265.2" y2="391.46666666666664" stroke="#6a6a6a" stroke-width="1.1"/>
<text x="260.8" y="393.76666666666665" font-size="7.9" text-anchor="end" fill="#555" font-family='"Liberation Serif", serif'  stroke="#555" stroke-width="0.12">0</text>
<line x1="262.4" y1="416.0833333333333" x2="265.2" y2="416.0833333333333" stroke="#6a6a6a" stroke-width="1.1"/>
<text x="260.8" y="418.3833333333333" font-size="7.9" text-anchor="end" fill="#555" font-family='"Liberation Serif", serif'  stroke="#555" stroke-width="0.12">-0.2</text>
<line x1="262.4" y1="440.7" x2="265.2" y2="440.7" stroke="#6a6a6a" stroke-width="1.1"/>
<text x="260.8" y="443.0" font-size="7.9" text-anchor="end" fill="#555" font-family='"Liberation Serif", serif'  stroke="#555" stroke-width="0.12">-0.4</text>
<line x1="265.2" y1="440.7" x2="265.2" y2="443.7" stroke="#6a6a6a" stroke-width="1.1"/>
<text x="266.7" y="452.8" font-size="7.9" text-anchor="middle" fill="#555" font-family='"Liberation Serif", serif'  stroke="#555" stroke-width="0.12">-450</text>
<line x1="286.22222222222223" y1="440.7" x2="286.22222222222223" y2="443.7" stroke="#6a6a6a" stroke-width="1.1"/>
<text x="287.72" y="452.8" font-size="7.9" text-anchor="middle" fill="#555" font-family='"Liberation Serif", serif'  stroke="#555" stroke-width="0.12">-400</text>
<line x1="307.2444444444444" y1="440.7" x2="307.2444444444444" y2="443.7" stroke="#6a6a6a" stroke-width="1.1"/>
<text x="308.74" y="452.8" font-size="7.9" text-anchor="middle" fill="#555" font-family='"Liberation Serif", serif'  stroke="#555" stroke-width="0.12">-350</text>
<line x1="328.26666666666665" y1="440.7" x2="328.26666666666665" y2="443.7" stroke="#6a6a6a" stroke-width="1.1"/>
<text x="329.77" y="452.8" font-size="7.9" text-anchor="middle" fill="#555" font-family='"Liberation Serif", serif'  stroke="#555" stroke-width="0.12">-300</text>
<line x1="349.2888888888889" y1="440.7" x2="349.2888888888889" y2="443.7" stroke="#6a6a6a" stroke-width="1.1"/>
<text x="350.79" y="452.8" font-size="7.9" text-anchor="middle" fill="#555" font-family='"Liberation Serif", serif'  stroke="#555" stroke-width="0.12">-250</text>
<line x1="370.31111111111113" y1="440.7" x2="370.31111111111113" y2="443.7" stroke="#6a6a6a" stroke-width="1.1"/>
<text x="371.81" y="452.8" font-size="7.9" text-anchor="middle" fill="#555" font-family='"Liberation Serif", serif'  stroke="#555" stroke-width="0.12">-200</text>
<line x1="391.3333333333333" y1="440.7" x2="391.3333333333333" y2="443.7" stroke="#6a6a6a" stroke-width="1.1"/>
<text x="392.83" y="452.8" font-size="7.9" text-anchor="middle" fill="#555" font-family='"Liberation Serif", serif'  stroke="#555" stroke-width="0.12">-150</text>
<line x1="412.3555555555555" y1="440.7" x2="412.3555555555555" y2="443.7" stroke="#6a6a6a" stroke-width="1.1"/>
<text x="413.86" y="452.8" font-size="7.9" text-anchor="middle" fill="#555" font-family='"Liberation Serif", serif'  stroke="#555" stroke-width="0.12">-100</text>
<line x1="433.37777777777774" y1="440.7" x2="433.37777777777774" y2="443.7" stroke="#6a6a6a" stroke-width="1.1"/>
<text x="434.18" y="452.8" font-size="7.9" text-anchor="middle" fill="#555" font-family='"Liberation Serif", serif'  stroke="#555" stroke-width="0.12">-50</text>
<line x1="454.4" y1="440.7" x2="454.4" y2="443.7" stroke="#6a6a6a" stroke-width="1.1"/>
<text x="453.2" y="452.8" font-size="7.9" text-anchor="middle" fill="#555" font-family='"Liberation Serif", serif'  stroke="#555" stroke-width="0.12">0</text>
<line x1="490.4" y1="292.5" x2="490.4" y2="441.90000000000003" stroke="#6a6a6a" stroke-width="1.2"/>
<line x1="489.79999999999995" y1="441.3" x2="679.5" y2="441.3" stroke="#6a6a6a" stroke-width="1.2"/>
<line x1="487.59999999999997" y1="293.0" x2="490.4" y2="293.0" stroke="#6a6a6a" stroke-width="1.1"/>
<text x="485.7" y="295.3" font-size="7.9" text-anchor="end" fill="#555" font-family='"Liberation Serif", serif'  stroke="#555" stroke-width="0.12">0.8</text>
<line x1="487.59999999999997" y1="317.7166666666667" x2="490.4" y2="317.7166666666667" stroke="#6a6a6a" stroke-width="1.1"/>
<text x="485.7" y="320.0166666666667" font-size="7.9" text-anchor="end" fill="#555" font-family='"Liberation Serif", serif'  stroke="#555" stroke-width="0.12">0.6</text>
<line x1="487.59999999999997" y1="342.43333333333334" x2="490.4" y2="342.43333333333334" stroke="#6a6a6a" stroke-width="1.1"/>
<text x="485.7" y="344.73333333333335" font-size="7.9" text-anchor="end" fill="#555" font-family='"Liberation Serif", serif'  stroke="#555" stroke-width="0.12">0.4</text>
<line x1="487.59999999999997" y1="367.15" x2="490.4" y2="367.15" stroke="#6a6a6a" stroke-width="1.1"/>
<text x="485.7" y="369.45" font-size="7.9" text-anchor="end" fill="#555" font-family='"Liberation Serif", serif'  stroke="#555" stroke-width="0.12">0.2</text>
<line x1="487.59999999999997" y1="391.8666666666667" x2="490.4" y2="391.8666666666667" stroke="#6a6a6a" stroke-width="1.1"/>
<text x="485.7" y="394.1666666666667" font-size="7.9" text-anchor="end" fill="#555" font-family='"Liberation Serif", serif'  stroke="#555" stroke-width="0.12">0</text>
<line x1="487.59999999999997" y1="416.5833333333333" x2="490.4" y2="416.5833333333333" stroke="#6a6a6a" stroke-width="1.1"/>
<text x="485.7" y="418.8833333333333" font-size="7.9" text-anchor="end" fill="#555" font-family='"Liberation Serif", serif'  stroke="#555" stroke-width="0.12">-0.2</text>
<line x1="487.59999999999997" y1="441.3" x2="490.4" y2="441.3" stroke="#6a6a6a" stroke-width="1.1"/>
<text x="485.7" y="443.6" font-size="7.9" text-anchor="end" fill="#555" font-family='"Liberation Serif", serif'  stroke="#555" stroke-width="0.12">-0.4</text>
<line x1="490.4" y1="441.3" x2="490.4" y2="444.3" stroke="#6a6a6a" stroke-width="1.1"/>
<text x="491.9" y="452.3" font-size="7.9" text-anchor="middle" fill="#555" font-family='"Liberation Serif", serif'  stroke="#555" stroke-width="0.12">-400</text>
<line x1="513.975" y1="441.3" x2="513.975" y2="444.3" stroke="#6a6a6a" stroke-width="1.1"/>
<text x="515.48" y="452.3" font-size="7.9" text-anchor="middle" fill="#555" font-family='"Liberation Serif", serif'  stroke="#555" stroke-width="0.12">-350</text>
<line x1="537.55" y1="441.3" x2="537.55" y2="444.3" stroke="#6a6a6a" stroke-width="1.1"/>
<text x="539.05" y="452.3" font-size="7.9" text-anchor="middle" fill="#555" font-family='"Liberation Serif", serif'  stroke="#555" stroke-width="0.12">-300</text>
<line x1="561.125" y1="441.3" x2="561.125" y2="444.3" stroke="#6a6a6a" stroke-width="1.1"/>
<text x="562.62" y="452.3" font-size="7.9" text-anchor="middle" fill="#555" font-family='"Liberation Serif", serif'  stroke="#555" stroke-width="0.12">-250</text>
<line x1="584.7" y1="441.3" x2="584.7" y2="444.3" stroke="#6a6a6a" stroke-width="1.1"/>
<text x="586.2" y="452.3" font-size="7.9" text-anchor="middle" fill="#555" font-family='"Liberation Serif", serif'  stroke="#555" stroke-width="0.12">-200</text>
<line x1="608.275" y1="441.3" x2="608.275" y2="444.3" stroke="#6a6a6a" stroke-width="1.1"/>
<text x="609.77" y="452.3" font-size="7.9" text-anchor="middle" fill="#555" font-family='"Liberation Serif", serif'  stroke="#555" stroke-width="0.12">-150</text>
<line x1="631.85" y1="441.3" x2="631.85" y2="444.3" stroke="#6a6a6a" stroke-width="1.1"/>
<text x="633.35" y="452.3" font-size="7.9" text-anchor="middle" fill="#555" font-family='"Liberation Serif", serif'  stroke="#555" stroke-width="0.12">-100</text>
<line x1="655.425" y1="441.3" x2="655.425" y2="444.3" stroke="#6a6a6a" stroke-width="1.1"/>
<text x="656.22" y="452.3" font-size="7.9" text-anchor="middle" fill="#555" font-family='"Liberation Serif", serif'  stroke="#555" stroke-width="0.12">-50</text>
<line x1="679.0" y1="441.3" x2="679.0" y2="444.3" stroke="#6a6a6a" stroke-width="1.1"/>
<text x="677.8" y="452.3" font-size="7.9" text-anchor="middle" fill="#555" font-family='"Liberation Serif", serif'  stroke="#555" stroke-width="0.12">0</text>
</svg>
</body></html>
